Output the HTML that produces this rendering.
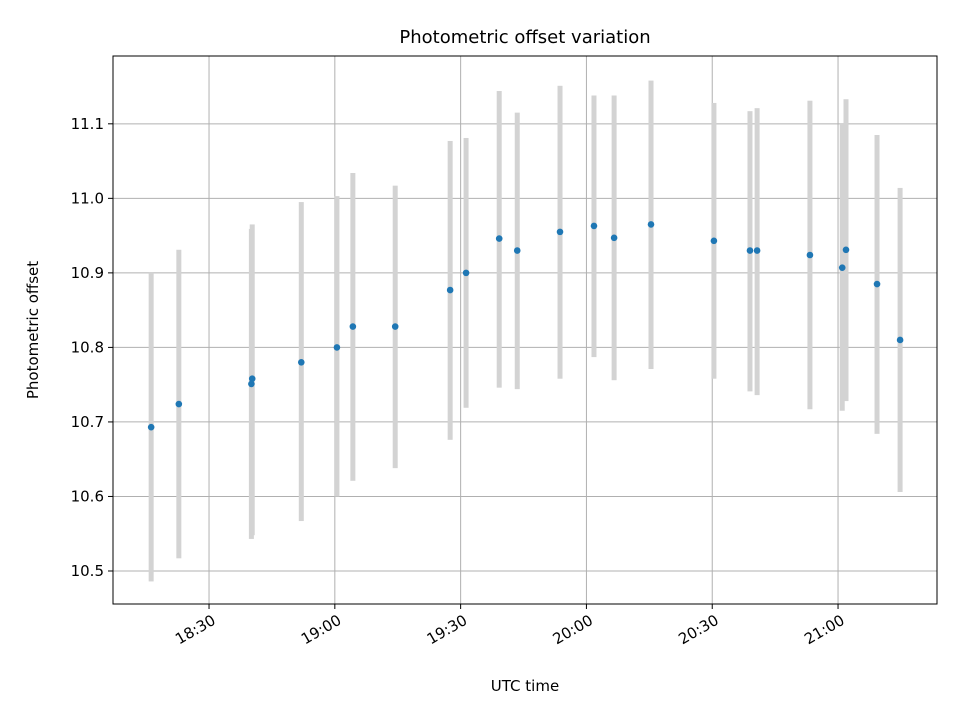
<!DOCTYPE html>
<html><head><meta charset="utf-8"><style>body{margin:0;background:#fff}svg{font-family:"DejaVu Sans","Liberation Sans",sans-serif}</style></head>
<body>
<svg id="chart" width="960" height="720"></svg>
<script>
const times=["18:16.2","18:22.8","18:40.3","18:40.1","18:52.0","19:00.5","19:04.3","19:14.4","19:27.5","19:31.3","19:39.2","19:43.5","19:53.7","20:01.8","20:06.6","20:15.4","20:30.4","20:39.0","20:40.7","20:53.3","21:01.0","21:01.9","21:09.3","21:14.8"];
const values=[10.693,10.724,10.758,10.751,10.780,10.800,10.828,10.828,10.877,10.900,10.946,10.930,10.955,10.963,10.947,10.965,10.943,10.930,10.930,10.924,10.907,10.931,10.885,10.810];
const highs=[10.900,10.931,10.965,10.959,10.995,11.003,11.034,11.017,11.077,11.081,11.144,11.115,11.151,11.138,11.138,11.158,11.128,11.117,11.121,11.131,11.100,11.133,11.085,11.014];
const lows=[10.486,10.517,10.548,10.543,10.567,10.600,10.621,10.638,10.676,10.719,10.746,10.744,10.758,10.787,10.756,10.771,10.758,10.741,10.736,10.717,10.715,10.728,10.684,10.606];
const xTicks=["18:30","19:00","19:30","20:00","20:30","21:00"];
const yTicks=[10.5,10.6,10.7,10.8,10.9,11.0,11.1];
const L=113,R=937,T=56,B=604;
const toMin=s=>{const [h,m]=s.split(":");return (+h)*60+parseFloat(m);};
const x0=toMin("18:07.1"),x1=toMin("21:23.6"),y0=10.4557,y1=11.191;
const X=t=>L+(toMin(t)-x0)/(x1-x0)*(R-L);
const Y=v=>B-(v-y0)/(y1-y0)*(B-T);
const svg=document.getElementById('chart');const NS="http://www.w3.org/2000/svg";
function mk(tag,attrs,parent){const e=document.createElementNS(NS,tag);for(const k in attrs)e.setAttribute(k,attrs[k]);(parent||svg).appendChild(e);return e;}
const grid=mk('g',{});
xTicks.forEach(t=>{const x=X(t);mk('line',{x1:x,x2:x,y1:T,y2:B,stroke:'#b0b0b0','stroke-width':1},grid);
 mk('line',{x1:x,x2:x,y1:B,y2:B+5,stroke:'#000'});
 const tx=mk('text',{x:x+3,y:B+22,'font-size':15,'text-anchor':'end',transform:`rotate(-30 ${x} ${B+12})`});tx.textContent=t;
 });
yTicks.forEach(v=>{const y=Y(v);mk('line',{x1:L,x2:R,y1:y,y2:y,stroke:'#b0b0b0','stroke-width':1},grid);
 mk('line',{x1:L-5,x2:L,y1:y,y2:y,stroke:'#000'});
 const tx=mk('text',{x:L-9,y:y+5,'font-size':15,'text-anchor':'end'});tx.textContent=v.toFixed(1);
 });
times.forEach((t,i)=>{const x=X(t);const b=mk('rect',{x:x-2.5,y:Y(highs[i]),width:5,height:Y(lows[i])-Y(highs[i]),fill:'#d3d3d3'});
 });
times.forEach((t,i)=>{const c=mk('circle',{cx:X(t),cy:Y(values[i]),r:3.3,fill:'#1f77b4'});
 });
const fr=mk('rect',{x:L,y:T,width:R-L,height:B-T,fill:'none',stroke:'#000','stroke-width':1});

let t=mk('text',{x:(L+R)/2,y:43,'font-size':18,'text-anchor':'middle'});t.textContent='Photometric offset variation';

t=mk('text',{x:(L+R)/2,y:691,'font-size':15,'text-anchor':'middle'});t.textContent='UTC time';

t=mk('text',{x:38,y:330,'font-size':15,'text-anchor':'middle',transform:'rotate(-90 38 330)'});t.textContent='Photometric offset';

</script>
</body></html>
